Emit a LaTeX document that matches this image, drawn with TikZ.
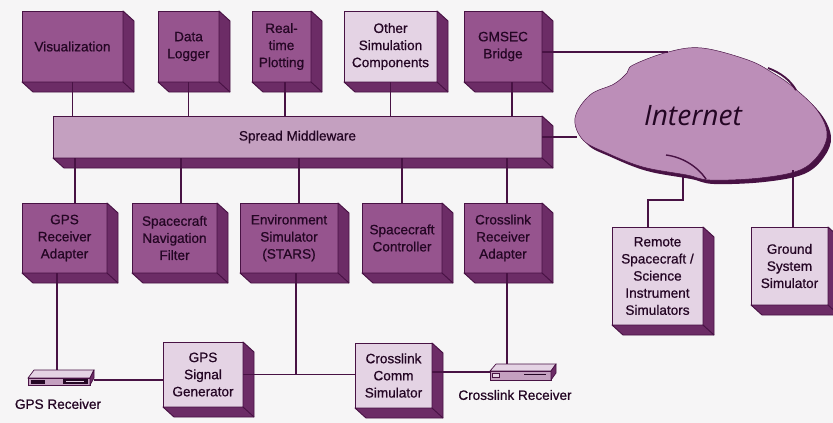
\documentclass[tikz,border=0pt]{standalone}
\usepackage{fontspec}
\setmainfont{Liberation Sans}[FakeBold=0.7]
\newfontfamily\netfont{Open Sans}
\usetikzlibrary{positioning}

\definecolor{paper}{RGB}{246,245,246}
\definecolor{edge}{RGB}{72,18,68}
\definecolor{ink}{RGB}{36,6,36}
\definecolor{darkfront}{RGB}{150,84,142}
\definecolor{lightfront}{RGB}{228,211,228}
\definecolor{midfront}{RGB}{196,160,192}
\definecolor{sideface}{RGB}{108,44,102}
\definecolor{cloudfill}{RGB}{188,142,184}

\newcommand\boxfont{\fontsize{11.6}{14.6}\selectfont}

\tikzset{
  unit/.style={rectangle, draw=edge, line width=0.8pt, inner sep=0pt, outer sep=0pt,
    align=center, font=\boxfont, text=ink},
  darkbox/.style={unit, fill=darkfront},
  lightbox/.style={unit, fill=lightfront},
  busbox/.style={unit, fill=midfront},
  side/.style={fill=sideface, draw=edge, line width=0.8pt, line join=round},
  link/.style={draw=edge, line width=1.1pt},
  devlabel/.style={font=\boxfont, text=ink, inner sep=0pt}
}

\begin{document}
\begin{tikzpicture}[x=0.03cm, y=-0.03cm]
        \useasboundingbox[fill=paper] (0,0) rectangle (833,423);

        % Internet cloud
        \fill[edge] plot[smooth cycle, tension=0.6] coordinates {
          (579,121) (594,97) (618,87) (631,76) (637,69) (670,56) (704,52) (750,64)
          (777,77) (797,91) (821,114) (831,137) (824,157) (804,174) (764,182)
          (714,184) (691,179) (647,171) (611,157) (587,144)};
        \filldraw[fill=cloudfill, draw=edge, line width=0.4pt] plot[smooth cycle, tension=0.6] coordinates {
          (575,118) (590,95) (614,84) (627,73) (633,65) (668,52) (702,48) (748,60)
          (773,73) (793,87) (817,110) (827,133) (820,153) (800,170) (760,178)
          (710,180) (687,175) (643,167) (607,153) (583,140)};
        \draw[edge, line width=1.2pt] (666,155) .. controls (682,157) and (697,166) .. (706,179);
        \draw[edge, line width=1.6pt] (768,68) .. controls (781,73) and (790,80) .. (796,90);
        \node at (693,116) (net) [font=\netfont\itshape\fontsize{24}{26}\selectfont, text=ink] {Internet};
        \coordinate (netT) at (668,52);
        \coordinate (netL) at (577,137);
        \coordinate (netB) at (683,177);
        \coordinate (netR) at (793,170);

        % Top row
        \node at (72.5,46.5) (vis) [darkbox, minimum width=3.03cm, minimum height=2.13cm] {Visualization};
        \node at (188.5,46.5) (logger) [darkbox, minimum width=1.83cm, minimum height=2.13cm] {Data\\Logger};
        \node at (281.5,46.5) (plot) [darkbox, minimum width=1.77cm, minimum height=2.13cm] {Real-\\time\\Plotting};
        \node at (390.5,46.5) (other) [lightbox, minimum width=2.79cm, minimum height=2.13cm] {Other\\Simulation\\Components};
        \node at (503,46.5) (gmsec) [darkbox, minimum width=2.34cm, minimum height=2.13cm] {GMSEC\\Bridge};

        % Middleware bar
        \node at (297.5,137) (mw) [busbox, minimum width=14.67cm, minimum height=1.26cm] {Spread Middleware};

        % Bottom row
        \node at (64.5,238) (gpsad) [darkbox, minimum width=2.55cm, minimum height=2.1cm] {GPS\\Receiver\\Adapter};
        \node at (174.5,238) (nav) [darkbox, minimum width=2.55cm, minimum height=2.1cm] {Spacecraft\\Navigation\\Filter};
        \node at (289,238) (env) [darkbox, minimum width=2.94cm, minimum height=2.1cm] {Environment\\Simulator\\(STARS)};
        \node at (402,238) (ctrl) [darkbox, minimum width=2.4cm, minimum height=2.1cm] {Spacecraft\\Controller};
        \node at (503,238) (xad) [darkbox, minimum width=2.34cm, minimum height=2.1cm] {Crosslink\\Receiver\\Adapter};

        % Remote side
        \node at (657.5,276) (remote) [lightbox, minimum width=2.73cm, minimum height=2.94cm] {Remote\\Spacecraft /\\Science\\Instrument\\Simulators};
        \node at (789.5,266) (ground) [lightbox, minimum width=2.31cm, minimum height=2.34cm] {Ground\\System\\Simulator};

        % Simulators
        \node at (203,374.5) (gsg) [lightbox, minimum width=2.4cm, minimum height=1.95cm] {GPS\\Signal\\Generator};
        \node at (393.5,375.5) (xcs) [lightbox, minimum width=2.31cm, minimum height=1.95cm] {Crosslink\\Comm\\Simulator};

        % Box depth
        \foreach \n in {vis,logger,plot,other,gmsec,mw,gpsad,nav,env,ctrl,xad,remote,ground,gsg,xcs} {
          \filldraw[side] (\n.north east) -- ++(11,10) -- ([shift={(11,10)}]\n.south east)
            -- ([shift={(11,10)}]\n.south west) -- (\n.south west) -- (\n.south east) -- cycle;
          \draw[side] (\n.south east) -- ++(11,10);
        }

        % Receivers
        \node at (61,377.5) (gpsrx) [minimum width=1.98cm, minimum height=0.45cm, inner sep=0pt] {};
        \filldraw[fill=lightfront, draw=edge, line width=0.6pt] (28,378) -- (34,370) -- (94,370) -- (90,378) -- cycle;
        \filldraw[fill=midfront, draw=edge, line width=0.6pt] (28,378) rectangle (90,385);
        \filldraw[side, line width=0.6pt] (90,378) -- (94,370) -- (94,378) -- (90,385) -- cycle;
        \fill[ink] (31,380) rectangle (45,384);
        \fill[ink] (63,379) rectangle (88,384);
        \draw[lightfront, line width=0.5pt] (66,381.5) -- (84,381.5);
        \node at (58,404) (gpsrxlbl) [devlabel] {GPS Receiver};

        \node at (523,372) (xrx) [minimum width=1.98cm, minimum height=0.48cm, inner sep=0pt] {};
        \filldraw[fill=lightfront, draw=edge, line width=0.6pt] (490,371) -- (496,364) -- (556,364) -- (551,371) -- cycle;
        \filldraw[fill=midfront, draw=edge, line width=0.6pt] (490,371) rectangle (551,380);
        \filldraw[side, line width=0.6pt] (551,371) -- (556,364) -- (556,373) -- (551,380) -- cycle;
        \filldraw[fill=lightfront, draw=edge, line width=0.5pt] (492,373) rectangle (499,377);
        \draw[ink, line width=1.4pt] (524,374.5) -- (546,374.5);
        \node at (515,395) (xrxlbl) [devlabel] {Crosslink Receiver};

        % Links to the middleware
        \draw[link] (vis.south) -- (vis.south |- mw.north);
        \draw[link] (logger.south) -- (logger.south |- mw.north);
        \draw[link] (plot.south -| 285,0) -- (mw.north -| 285,0);
        \draw[link] (other.south) -- (other.south |- mw.north);
        \draw[link] (gmsec.south -| 512,0) -- (mw.north -| 512,0);
        \draw[link] (mw.south -| 75,0) -- (gpsad.north -| 75,0);
        \draw[link] (mw.south -| 181,0) -- (nav.north -| 181,0);
        \draw[link] (mw.south -| 299,0) -- (env.north -| 299,0);
        \draw[link] (ctrl.north) -- (ctrl.north |- mw.south);
        \draw[link] (mw.south -| 507,0) -- (xad.north -| 507,0);

        % Links to the Internet
        \draw[link] (gmsec.east |- netT) -- (netT);
        \draw[link] (mw.east |- netL) -- (netL);
        \draw[link] (netB) -- ++(0,23) -| (remote.north -| 648,0);
        \draw[link] (netR) -- (ground.north -| netR);

        % Hardware links
        \draw[link] (gpsad.south -| 57,0) -- (gpsrx.north -| 57,0);
        \draw[link] (gpsrx.east |- 0,380) -- (gsg.west |- 0,380);
        \draw[link] (gsg.east) -- (gsg.east -| xcs.west);
        \draw[link] (env.south -| 296,0) -- (gsg.east -| 296,0);
        \draw[link] (xrx.west) -- (xrx.west -| xcs.east);
        \draw[link] (xad.south -| 507,0) -- (xrx.north -| 507,0);
    \end{tikzpicture}
\end{document}
